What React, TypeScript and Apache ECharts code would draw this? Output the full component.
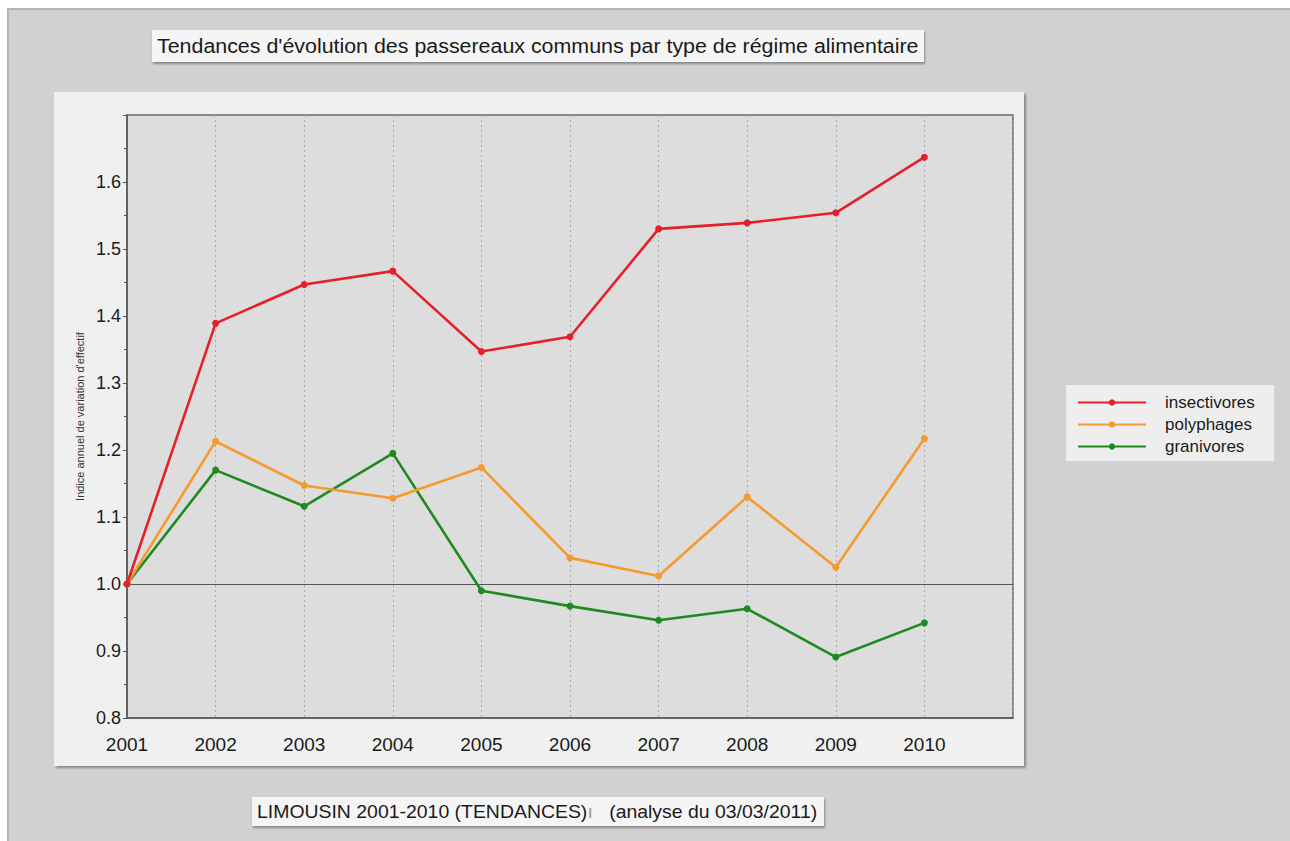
import React, { useEffect, useRef } from "react";
import * as echarts from "echarts";

const years = [2001, 2002, 2003, 2004, 2005, 2006, 2007, 2008, 2009, 2010];
const insectivores = [1.0, 1.389, 1.447, 1.467, 1.347, 1.369, 1.53, 1.539, 1.554, 1.637];
const polyphages = [1.0, 1.213, 1.147, 1.128, 1.174, 1.039, 1.012, 1.13, 1.025, 1.217];
const granivores = [1.0, 1.17, 1.116, 1.195, 0.99, 0.967, 0.946, 0.963, 0.891, 0.942];

const seriesNames = ["insectivores", "polyphages", "granivores"];
const seriesColors = ["#e5202a", "#f59a2e", "#1f8a1f"];
const seriesValues = [insectivores, polyphages, granivores];

const titleText = "Tendances d'évolution des passereaux communs par type de régime alimentaire";
const yAxisName = "Indice annuel de variation d'effectif";
const footerMain = "LIMOUSIN 2001-2010 (TENDANCES)";
const footerDate = "   (analyse du 03/03/2011)";

const FONT = "Liberation Sans, Arial, sans-serif";

export default function App() {
  const ref = useRef<HTMLDivElement>(null);
  useEffect(() => {
    if (!ref.current) return;
    const chart = echarts.init(ref.current, undefined, { renderer: "svg" });
    const series: any[] = seriesNames.map((name, i) => ({
      name,
      type: "line",
      data: years.map((y, j) => [y, seriesValues[i][j]]),
      symbol: "circle",
      symbolSize: 7,
      lineStyle: { color: seriesColors[i], width: 2.6 },
      itemStyle: { color: seriesColors[i] },
      z: 5 - i,
      ...(i === 0
        ? {
            markLine: {
              silent: true,
              symbol: "none",
              label: { show: false },
              lineStyle: { color: "#555", width: 1, type: "solid" },
              data: [{ yAxis: 1.0 }],
              z: 1,
            },
          }
        : {}),
    }));
    chart.setOption({
      animation: false,
      backgroundColor: "#ffffff",
      graphic: [
        {
          type: "rect",
          shape: { x: 8, y: 9, width: 1290, height: 840 },
          style: { fill: "#d1d1d1", stroke: "#b5b5b5", lineWidth: 2 },
          z: -10,
        },
        {
          type: "rect",
          shape: { x: 54, y: 92, width: 970, height: 674 },
          style: {
            fill: "#f0f0f0",
            shadowBlur: 2,
            shadowOffsetX: 2,
            shadowOffsetY: 2,
            shadowColor: "rgba(0,0,0,0.35)",
          },
          z: -9,
        },
        {
          type: "rect",
          shape: { x: 152, y: 30, width: 772, height: 32 },
          style: {
            fill: "#f5f5f5",
            shadowBlur: 2,
            shadowOffsetX: 1,
            shadowOffsetY: 2,
            shadowColor: "rgba(0,0,0,0.35)",
          },
          z: -9,
        },
        {
          type: "text",
          x: 157,
          y: 46,
          scaleX: 1.07,
          style: {
            text: titleText,
            font: `20px ${FONT}`,
            fill: "#1a1a1a",
            verticalAlign: "middle",
          },
        },
        {
          type: "rect",
          shape: { x: 252, y: 797, width: 572, height: 29 },
          style: {
            fill: "#f5f5f5",
            shadowBlur: 2,
            shadowOffsetX: 1,
            shadowOffsetY: 2,
            shadowColor: "rgba(0,0,0,0.35)",
          },
          z: -9,
        },
        {
          type: "text",
          x: 257,
          y: 812,
          scaleX: 1.08,
          style: {
            text: `{a|${footerMain}}{b|ı}{a|${footerDate}}`,
            verticalAlign: "middle",
            rich: {
              a: { font: `18px ${FONT}`, fill: "#1a1a1a" },
              b: { font: `18px ${FONT}`, fill: "#999" },
            },
          },
        },
        {
          type: "rect",
          shape: { x: 1066, y: 385, width: 208, height: 76 },
          style: { fill: "#eeeeee" },
          z: -8,
        },
      ],
      legend: {
        orient: "vertical",
        left: 1072,
        top: 389,
        itemWidth: 68,
        itemHeight: 8,
        itemGap: 5,
        data: seriesNames,
        textStyle: {
          fontFamily: FONT,
          fontSize: 17,
          color: "#1a1a1a",
          padding: [0, 0, 0, 14],
        },
      },
      grid: {
        left: 127,
        top: 115,
        right: 277,
        bottom: 123,
        show: true,
        backgroundColor: "#dddddd",
        borderColor: "#6a6a6a",
        borderWidth: 1.5,
      },
      xAxis: {
        type: "value",
        min: 2001,
        max: 2011,
        interval: 1,
        axisLine: { show: true, lineStyle: { color: "#555", width: 1.5 } },
        axisTick: { show: false },
        axisLabel: {
          fontFamily: FONT,
          fontSize: 19,
          color: "#1a1a1a",
          margin: 17,
          formatter: (v: number) => (v === 2011 ? "" : String(v)),
        },
        splitLine: {
          show: true,
          lineStyle: { color: "#a8a8a8", type: [2, 3], width: 1 },
        },
      },
      yAxis: {
        type: "value",
        min: 0.8,
        max: 1.7,
        interval: 0.1,
        name: yAxisName,
        nameLocation: "middle",
        nameGap: 36,
        nameRotate: 90,
        nameTextStyle: { fontFamily: FONT, fontSize: 11, color: "#333" },
        axisLine: { show: true, lineStyle: { color: "#555", width: 1.5 } },
        axisTick: { show: true, length: 4, lineStyle: { color: "#555" } },
        minorTick: { show: true, splitNumber: 2, length: 3, lineStyle: { color: "#555" } },
        axisLabel: {
          fontFamily: FONT,
          fontSize: 18,
          color: "#1a1a1a",
          margin: 6,
          formatter: (v: number) => (Math.abs(v - 1.7) < 1e-6 ? "" : v.toFixed(1)),
        },
        splitLine: { show: false },
      },
      series,
    });
    return () => chart.dispose();
  }, []);
  return (
    <div
      ref={ref}
      style={{ position: "absolute", left: 0, top: 0, width: 1290, height: 841 }}
    />
  );
}
